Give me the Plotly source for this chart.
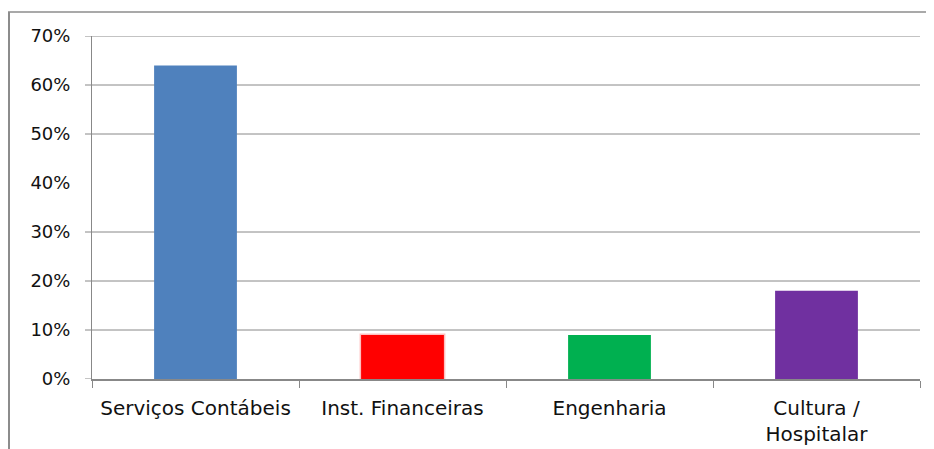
import plotly.graph_objects as go

categories = ["Serviços Contábeis", "Inst. Financeiras", "Engenharia", "Cultura /<br>Hospitalar"]
values = [0.64, 0.09, 0.09, 0.18]
colors = ["#4F81BD", "#FF0000", "#00B050", "#7030A0"]
y_ticks = [0, 0.1, 0.2, 0.3, 0.4, 0.5, 0.6, 0.7]
y_ticktext = ["0%", "10%", "20%", "30%", "40%", "50%", "60%", "70%"]
y_grid = [0.1, 0.2, 0.3, 0.5, 0.6, 0.7]   # the 40% line is absent in the original
y_tickmarks = [0.0, 0.1, 0.2, 0.3, 0.5, 0.6, 0.7]

# page body has an 8px margin; figure sized to fill the rest of the window
W, H = 926, 441
L, R, T, B = 84, 14, 28, 70
pw, ph = W - L - R, H - T - B

fig = go.Figure()
fig.add_trace(go.Bar(
    x=categories, y=values, width=0.4,
    marker=dict(color=colors,
                line=dict(color=["rgba(0,0,0,0)", "rgba(255,0,0,0.25)", "rgba(0,0,0,0)", "rgba(0,0,0,0)"], width=3)),
    hoverinfo="x+y",
))

grid = "#888888"
fig.update_layout(
    width=W, height=H,
    margin=dict(l=L, r=R, t=T, b=B, pad=0, autoexpand=False),
    paper_bgcolor="white", plot_bgcolor="white",
    showlegend=False,
    font=dict(family="DejaVu Sans", size=18, color="#111111"),
    xaxis=dict(type="category", tickson="boundaries", ticks="outside", ticklen=7,
               tickcolor=grid, showline=True, linecolor=grid, linewidth=1.5,
               showgrid=False, tickfont=dict(size=20), ticklabelstandoff=10,
               automargin=False),
    yaxis=dict(range=[0, 0.7], tickmode="array", tickvals=y_ticks, ticktext=y_ticktext,
               ticks="", showline=True, linecolor=grid, linewidth=1,
               showgrid=False, zeroline=False, tickfont=dict(size=18),
               ticklabelstandoff=17, automargin=False),
    bargap=0.6,
)

for v in y_grid:
    fig.add_shape(type="line", xref="paper", yref="y", x0=0, x1=1, y0=v, y1=v,
                  line=dict(color=grid, width=1), layer="below")
for v in y_tickmarks:
    fig.add_shape(type="line", xref="paper", yref="y", xsizemode="pixel", xanchor=0,
                  x0=-7, x1=0, y0=v, y1=v, line=dict(color=grid, width=1))

def px_x(x):
    return (x - L) / pw

def px_y(y):
    return (H - B - y) / ph

fig.add_shape(type="line", xref="paper", yref="paper",
              x0=px_x(1), x1=px_x(1), y0=px_y(4), y1=px_y(H),
              line=dict(color="#8c8c8c", width=2))
fig.add_shape(type="line", xref="paper", yref="paper",
              x0=px_x(0), x1=px_x(W), y0=px_y(4), y1=px_y(4),
              line=dict(color="#8c8c8c", width=1.5))

fig.write_html("out.html")
